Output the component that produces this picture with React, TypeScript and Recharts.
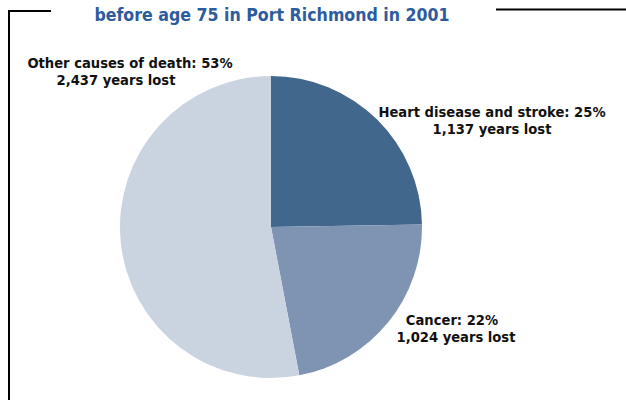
import React from "react";
import { PieChart, Pie, Cell } from "recharts";

const causes = ["Heart disease and stroke", "Cancer", "Other causes of death"];
const yearsLost = [1137, 1024, 2437];
const percents = [25, 22, 53];
const colors = ["#41678d", "#7f94b3", "#cad4e0"];

const data = causes.map((name, i) => ({
  name,
  value: yearsLost[i],
  pct: percents[i],
}));

const FONT = "'DejaVu Sans Condensed', 'DejaVu Sans', sans-serif";

// label spots: centre of first line, centre of second line, first baseline
const labelSpots = [
  { x1: 492, x2: 492, y: 117 },
  { x1: 452, x2: 456, y: 325 },
  { x1: 130, x2: 116, y: 68 },
];

const renderLabel = (props: any) => {
  const { index } = props;
  const d = data[index];
  const s = labelSpots[index];
  return (
    <text
      x={s.x1}
      y={s.y}
      textAnchor="middle"
      fontFamily={FONT}
      fontWeight="bold"
      fontSize={14.6}
      fill="#111"
    >
      <tspan x={s.x1}>{`${d.name}: ${d.pct}%`}</tspan>
      <tspan x={s.x2} dy={17}>{`${d.value.toLocaleString("en-US")} years lost`}</tspan>
    </text>
  );
};

const App: React.FC = () => {
  return (
    <div
      style={{
        position: "fixed",
        left: 0,
        top: 0,
        width: 626,
        height: 400,
        background: "#fff",
      }}
    >
      <svg
        width={626}
        height={400}
        style={{ position: "absolute", left: 0, top: 0 }}
      >
        <polyline points="9,400 9,11 51,11" fill="none" stroke="#000" strokeWidth={2} />
        <line x1={496} y1={9.5} x2={626} y2={9.5} stroke="#000" strokeWidth={2} />
        <text
          x={272}
          y={21}
          textAnchor="middle"
          fontFamily={FONT}
          fontWeight="bold"
          fontSize={17.6}
          fill="#2d5c9e"
        >
          before age 75 in Port Richmond in 2001
        </text>
      </svg>
      <div style={{ position: "absolute", left: 0, top: 0 }}>
        <PieChart
          width={626}
          height={400}
          margin={{ top: 0, right: 0, bottom: 0, left: 0 }}
        >
          <Pie
            data={data}
            dataKey="value"
            nameKey="name"
            cx={271}
            cy={227}
            outerRadius={151}
            startAngle={90}
            endAngle={-270}
            stroke="none"
            label={renderLabel}
            labelLine={false}
            isAnimationActive={false}
          >
            {data.map((d, i) => (
              <Cell key={d.name} fill={colors[i]} />
            ))}
          </Pie>
        </PieChart>
      </div>
    </div>
  );
};

export default App;
